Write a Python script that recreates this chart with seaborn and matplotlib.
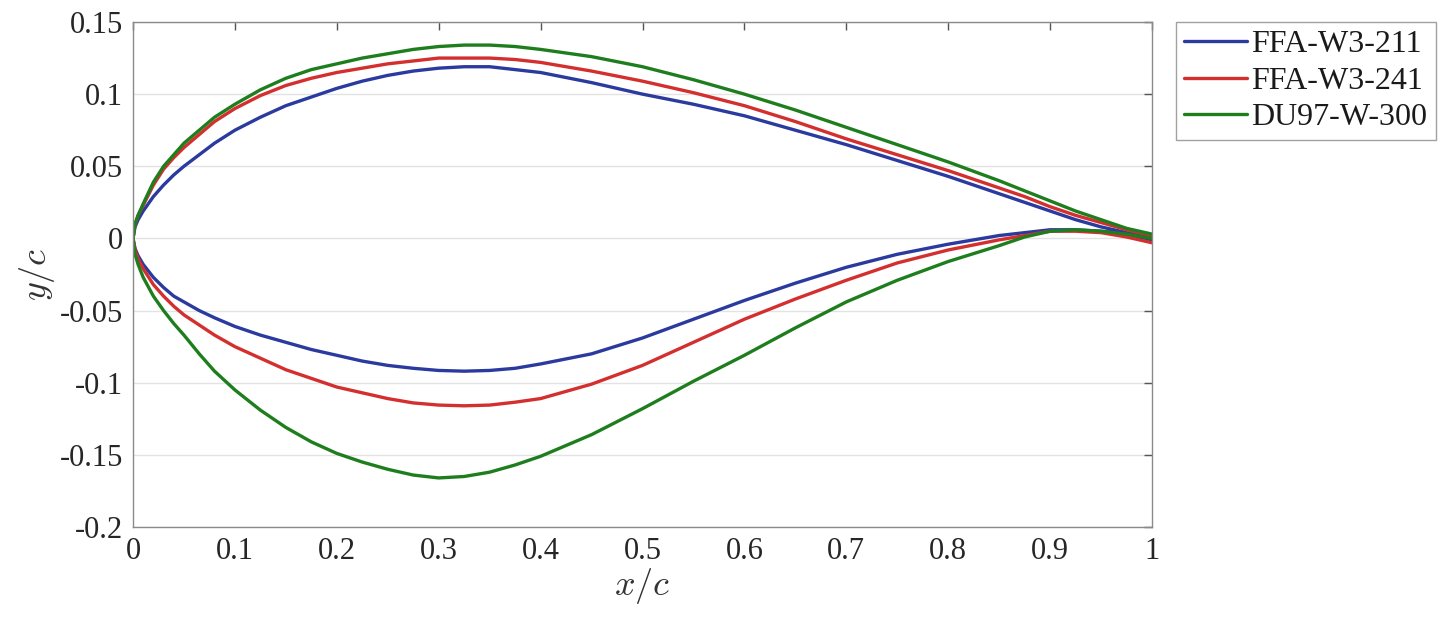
import numpy as np
import pandas as pd
import matplotlib
matplotlib.use("Agg")
import matplotlib.pyplot as plt
import seaborn as sns

# chordwise stations (shared by upper and lower surfaces)
x_c = [0, .002, .005, .01, .02, .03, .04, .05, .065, .08, .1, .125, .15, .175, .2,
       .225, .25, .275, .3, .325, .35, .375, .4, .45, .5, .55, .6, .65, .7, .75,
       .8, .85, .875, .9, .925, .95, .975, 1]

ffa211_upper = [0, .008, .013, .019, .029, .037, .044, .050, .058, .066, .075, .084, .092, .098, .104,
                .109, .113, .116, .118, .119, .119, .117, .115, .108, .100, .093, .085, .075, .065, .054,
                .043, .031, .025, .019, .013, .008, .004, .001]
ffa211_lower = [0, -.007, -.012, -.018, -.027, -.034, -.040, -.044, -.050, -.055, -.061, -.067, -.072, -.077, -.081,
                -.085, -.088, -.090, -.0915, -.092, -.0915, -.090, -.087, -.080, -.069, -.056, -.043, -.031, -.020, -.011,
                -.004, .002, .004, .006, .006, .005, .003, -.001]

ffa241_upper = [0, .010, .016, .023, .037, .048, .056, .063, .072, .081, .090, .099, .106, .111, .115,
                .118, .121, .123, .125, .125, .125, .124, .122, .116, .109, .101, .092, .081, .069, .058,
                .047, .035, .029, .022, .016, .011, .006, .002]
ffa241_lower = [0, -.008, -.014, -.021, -.032, -.040, -.047, -.053, -.060, -.067, -.075, -.083, -.091, -.097, -.103,
                -.107, -.111, -.114, -.1155, -.116, -.1155, -.1135, -.111, -.101, -.088, -.072, -.056, -.042, -.029, -.017,
                -.008, -.001, .002, .005, .005, .004, .001, -.003]

du97_upper = [0, .010, .016, .024, .039, .050, .058, .066, .075, .084, .093, .103, .111, .117, .121,
              .125, .128, .131, .133, .134, .134, .133, .131, .126, .119, .110, .100, .089, .077, .065,
              .053, .040, .033, .026, .019, .013, .007, .003]
du97_lower = [0, -.011, -.018, -.027, -.040, -.050, -.059, -.067, -.080, -.092, -.105, -.119, -.131, -.141, -.149,
              -.155, -.160, -.164, -.166, -.165, -.162, -.157, -.151, -.136, -.118, -.099, -.081, -.062, -.044, -.029,
              -.016, -.005, .001, .005, .006, .005, .003, .000]

names = ["FFA-W3-211", "FFA-W3-241", "DU97-W-300"]
colors = ["#2B3A9E", "#D42F2F", "#1E7E1E"]


def contour(name, upper, lower):
    # trailing edge -> leading edge along upper side, then back along lower side
    xs = x_c[::-1] + x_c[1:]
    ys = upper[::-1] + lower[1:]
    return pd.DataFrame({"x": xs, "y": ys, "airfoil": name})


df = pd.concat([
    contour(names[0], ffa211_upper, ffa211_lower),
    contour(names[1], ffa241_upper, ffa241_lower),
    contour(names[2], du97_upper, du97_lower),
], ignore_index=True)

sns.set_theme(style="white")
plt.rcParams['font.family'] = ['Liberation Serif', 'DejaVu Serif']
plt.rcParams['mathtext.fontset'] = 'cm'
plt.rcParams['axes.unicode_minus'] = False

fig = plt.figure(figsize=(14.45, 6.17), dpi=100)
ax = fig.add_axes([133 / 1445, 1 - 527 / 617, (1152 - 133) / 1445, (527 - 22) / 617])

sns.lineplot(data=df, x="x", y="y", hue="airfoil", hue_order=names, palette=colors,
             sort=False, estimator=None, linewidth=2.4, ax=ax)

ax.set_xlim(0, 1)
ax.set_ylim(-0.2, 0.15)
ax.set_xticks(np.arange(0, 1.01, 0.1))
ax.set_yticks(np.arange(-0.2, 0.151, 0.05))
fmt = matplotlib.ticker.FuncFormatter(lambda v, p: '%g' % (round(v, 3) + 0.0))
ax.xaxis.set_major_formatter(fmt)
ax.yaxis.set_major_formatter(fmt)
ax.yaxis.grid(True, color='#e3e3e3', linewidth=1.0)
ax.xaxis.grid(False)
ax.tick_params(direction='in', length=6, width=1, colors='#555555', labelcolor='#262626',
               labelsize=22, top=True, right=True, pad=7)
for s in ax.spines.values():
    s.set_color('#8a8a8a')
    s.set_linewidth(1.0)

ax.set_xlabel('$x/c$', fontsize=26, color='#333333', labelpad=0)
ax.set_ylabel('$y/c$', fontsize=26, color='#333333', labelpad=2)

leg = ax.legend(loc='upper left', bbox_to_anchor=(1.024, 1.0), fontsize=23,
                frameon=True, fancybox=False, edgecolor='#8a8a8a', handlelength=1.95,
                handletextpad=0.15, borderpad=0.25, labelspacing=0.22, borderaxespad=0)
leg.get_frame().set_linewidth(1.0)
for t in leg.get_texts():
    t.set_color('#1a1a1a')

fig.savefig('out.png', dpi=100)
